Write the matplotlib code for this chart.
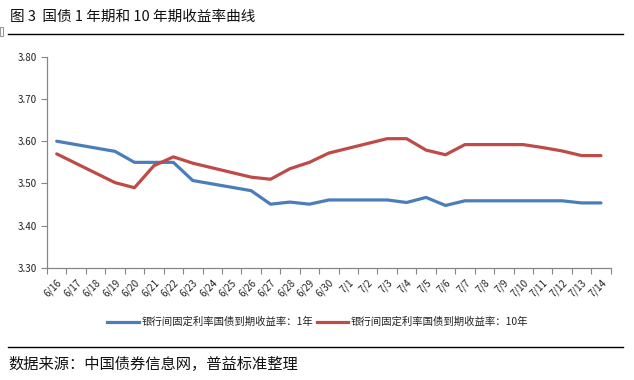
import matplotlib

matplotlib.use("Agg")

import matplotlib.pyplot as plt
from matplotlib.lines import Line2D
from matplotlib.patches import Rectangle

plt.rcParams["font.family"] = ["Noto Sans CJK SC", "DejaVu Sans"]

TITLE = "图 3  国债 1 年期和 10 年期收益率曲线"
SOURCE = "数据来源：中国债券信息网，普益标准整理"

DAY_LABELS = [
    "6/16", "6/17", "6/18", "6/19", "6/20", "6/21", "6/22", "6/23", "6/24", "6/25",
    "6/26", "6/27", "6/28", "6/29", "6/30", "7/1", "7/2", "7/3", "7/4", "7/5",
    "7/6", "7/7", "7/8", "7/9", "7/10", "7/11", "7/12", "7/13", "7/14",
]
# trading days that carry a value
DATA_DAYS = [
    "6/16", "6/19", "6/20", "6/21", "6/22", "6/23", "6/26", "6/27", "6/28", "6/29",
    "6/30", "7/3", "7/4", "7/5", "7/6", "7/7", "7/10", "7/11", "7/12", "7/13", "7/14",
]
YIELD_1Y = [
    3.600, 3.576, 3.550, 3.550, 3.550, 3.507, 3.483, 3.451, 3.456, 3.451,
    3.461, 3.461, 3.455, 3.467, 3.448, 3.459, 3.459, 3.459, 3.459, 3.454, 3.454,
]
YIELD_10Y = [
    3.570, 3.502, 3.490, 3.542, 3.563, 3.548, 3.515, 3.510, 3.535, 3.550,
    3.572, 3.606, 3.606, 3.579, 3.568, 3.592, 3.592, 3.585, 3.577, 3.566, 3.566,
]
SERIES_NAMES = ["银行间固定利率国债到期收益率：1年", "银行间固定利率国债到期收益率：10年"]
COLORS = ["#4a7ebb", "#be4b48"]
Y_TICKS = [3.30, 3.40, 3.50, 3.60, 3.70, 3.80]

W, H = 634, 380
fig = plt.figure(figsize=(W / 100, H / 100), dpi=100)
ax = fig.add_axes([47 / W, 1 - 268 / H, (610.7 - 47) / W, (268 - 56.7) / H])

x_pos = [DAY_LABELS.index(d) for d in DATA_DAYS]
for values, color in zip([YIELD_1Y, YIELD_10Y], COLORS):
    ax.plot(x_pos, values, color=color, linewidth=2.3, solid_capstyle="round", solid_joinstyle="round")

axis_grey = "#868686"
for side in ("top", "right"):
    ax.spines[side].set_visible(False)
for side in ("left", "bottom"):
    ax.spines[side].set_color(axis_grey)
    ax.spines[side].set_linewidth(0.9)

ax.set_ylim(3.30, 3.80)
ax.set_yticks(Y_TICKS)
ax.set_yticklabels([f"{v:.2f}" for v in Y_TICKS])
ax.tick_params(axis="y", direction="out", length=4, width=0.8, color=axis_grey,
               labelsize=7, pad=3, labelcolor="#222222")

n = len(DAY_LABELS)
ax.set_xlim(-0.5, n - 0.5)
ax.set_xticks([i - 0.5 for i in range(n + 1)])
ax.set_xticklabels([])
ax.tick_params(axis="x", which="major", direction="out", length=4, width=0.8, color=axis_grey)
ax.set_xticks(range(n), minor=True)
ax.set_xticklabels(DAY_LABELS, minor=True, rotation=45, ha="right", va="top",
                   rotation_mode="anchor", fontsize=7, color="#222222")
ax.tick_params(axis="x", which="minor", length=0, pad=7)

handles = [Line2D([], [], color=c, linewidth=2.3) for c in COLORS]
fig.legend(handles, SERIES_NAMES, loc="center", bbox_to_anchor=(318 / W, 1 - 322 / H),
           ncol=2, frameon=False, fontsize=7.5, handlelength=3.0, handletextpad=0.3,
           columnspacing=0.3, labelcolor="#222222")

fig.text(10 / W, 1 - 17 / H, TITLE, fontsize=10.5, va="center", ha="left", color="#111111")
fig.add_artist(Line2D([8 / W, 623 / W], [1 - 34 / H] * 2, color="black", linewidth=1.0))
fig.add_artist(Line2D([8 / W, 623 / W], [1 - 347 / H] * 2, color="black", linewidth=1.0))
fig.text(8 / W, 1 - 364 / H, SOURCE, fontsize=11, va="center", ha="left", color="#111111")
fig.add_artist(Rectangle((0, 1 - 36 / H), 3 / W, 9 / H, fill=False, edgecolor="#999999",
                         linewidth=0.8, transform=fig.transFigure))

fig.savefig("out.png", dpi=100)
